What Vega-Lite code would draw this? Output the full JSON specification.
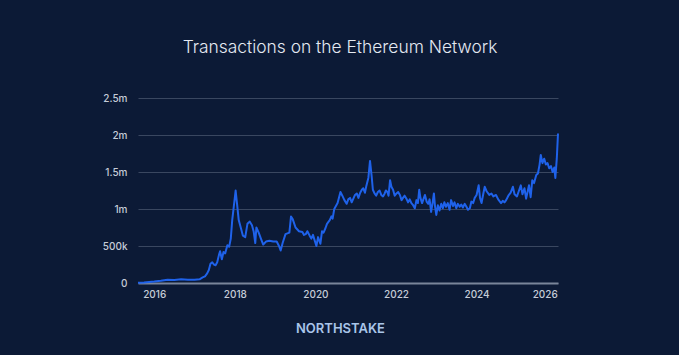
{
  "$schema": "https://vega.github.io/schema/vega-lite/v6.json",
  "autosize": "none",
  "width": 420,
  "height": 185,
  "padding": {"left": 138, "top": 98, "right": 121, "bottom": 72},
  "background": "#0c1a36",
  "config": {"view": {"stroke": null}, "font": "Inter"},
  "title": {"text": "Transactions on the Ethereum Network", "anchor": "middle", "frame": "group", "dx": -8, "offset": 37, "fontSize": 17.4, "fontWeight": 300, "color": "#e4e9f2", "font": "Inter"},
  "data": {"values": [
    {"date": "2015-08-07", "tx": 5000},
    {"date": "2015-10-01", "tx": 8000},
    {"date": "2016-01-01", "tx": 20000},
    {"date": "2016-03-01", "tx": 30000},
    {"date": "2016-05-01", "tx": 45000},
    {"date": "2016-07-01", "tx": 42000},
    {"date": "2016-09-01", "tx": 50000},
    {"date": "2016-11-01", "tx": 45000},
    {"date": "2017-01-01", "tx": 45000},
    {"date": "2017-02-15", "tx": 50000},
    {"date": "2017-03-15", "tx": 75000},
    {"date": "2017-04-05", "tx": 90000},
    {"date": "2017-04-25", "tx": 130000},
    {"date": "2017-05-10", "tx": 175000},
    {"date": "2017-05-25", "tx": 260000},
    {"date": "2017-06-10", "tx": 280000},
    {"date": "2017-06-25", "tx": 250000},
    {"date": "2017-07-10", "tx": 240000},
    {"date": "2017-07-25", "tx": 280000},
    {"date": "2017-08-10", "tx": 380000},
    {"date": "2017-08-20", "tx": 430000},
    {"date": "2017-09-05", "tx": 320000},
    {"date": "2017-09-20", "tx": 420000},
    {"date": "2017-10-05", "tx": 400000},
    {"date": "2017-10-25", "tx": 510000},
    {"date": "2017-11-10", "tx": 490000},
    {"date": "2017-11-25", "tx": 600000},
    {"date": "2017-12-08", "tx": 850000},
    {"date": "2017-12-22", "tx": 1030000},
    {"date": "2018-01-08", "tx": 1250000},
    {"date": "2018-01-20", "tx": 1080000},
    {"date": "2018-02-05", "tx": 850000},
    {"date": "2018-02-25", "tx": 740000},
    {"date": "2018-03-15", "tx": 640000},
    {"date": "2018-04-05", "tx": 620000},
    {"date": "2018-04-25", "tx": 800000},
    {"date": "2018-05-15", "tx": 830000},
    {"date": "2018-06-05", "tx": 780000},
    {"date": "2018-06-20", "tx": 700000},
    {"date": "2018-07-05", "tx": 540000},
    {"date": "2018-07-15", "tx": 750000},
    {"date": "2018-08-05", "tx": 680000},
    {"date": "2018-08-25", "tx": 600000},
    {"date": "2018-09-15", "tx": 520000},
    {"date": "2018-10-10", "tx": 560000},
    {"date": "2018-11-10", "tx": 570000},
    {"date": "2018-12-15", "tx": 560000},
    {"date": "2019-01-15", "tx": 560000},
    {"date": "2019-02-05", "tx": 500000},
    {"date": "2019-02-20", "tx": 440000},
    {"date": "2019-03-10", "tx": 540000},
    {"date": "2019-04-05", "tx": 660000},
    {"date": "2019-05-10", "tx": 680000},
    {"date": "2019-05-25", "tx": 900000},
    {"date": "2019-06-10", "tx": 860000},
    {"date": "2019-07-05", "tx": 750000},
    {"date": "2019-08-05", "tx": 700000},
    {"date": "2019-09-05", "tx": 690000},
    {"date": "2019-09-20", "tx": 650000},
    {"date": "2019-10-05", "tx": 660000},
    {"date": "2019-10-20", "tx": 700000},
    {"date": "2019-11-10", "tx": 640000},
    {"date": "2019-11-25", "tx": 600000},
    {"date": "2019-12-10", "tx": 650000},
    {"date": "2020-01-10", "tx": 500000},
    {"date": "2020-01-25", "tx": 620000},
    {"date": "2020-02-15", "tx": 530000},
    {"date": "2020-03-01", "tx": 700000},
    {"date": "2020-03-15", "tx": 680000},
    {"date": "2020-04-01", "tx": 740000},
    {"date": "2020-04-15", "tx": 800000},
    {"date": "2020-05-10", "tx": 850000},
    {"date": "2020-05-25", "tx": 900000},
    {"date": "2020-06-05", "tx": 870000},
    {"date": "2020-06-20", "tx": 1000000},
    {"date": "2020-07-20", "tx": 1080000},
    {"date": "2020-08-01", "tx": 1150000},
    {"date": "2020-08-15", "tx": 1230000},
    {"date": "2020-09-01", "tx": 1180000},
    {"date": "2020-09-20", "tx": 1120000},
    {"date": "2020-10-10", "tx": 1070000},
    {"date": "2020-10-25", "tx": 1130000},
    {"date": "2020-11-10", "tx": 1150000},
    {"date": "2020-11-25", "tx": 1090000},
    {"date": "2020-12-10", "tx": 1140000},
    {"date": "2020-12-25", "tx": 1190000},
    {"date": "2021-01-10", "tx": 1210000},
    {"date": "2021-01-25", "tx": 1150000},
    {"date": "2021-02-10", "tx": 1220000},
    {"date": "2021-02-25", "tx": 1260000},
    {"date": "2021-03-10", "tx": 1280000},
    {"date": "2021-03-25", "tx": 1220000},
    {"date": "2021-04-05", "tx": 1300000},
    {"date": "2021-04-25", "tx": 1420000},
    {"date": "2021-05-10", "tx": 1650000},
    {"date": "2021-05-25", "tx": 1440000},
    {"date": "2021-06-05", "tx": 1260000},
    {"date": "2021-06-20", "tx": 1210000},
    {"date": "2021-07-05", "tx": 1180000},
    {"date": "2021-07-20", "tx": 1230000},
    {"date": "2021-08-05", "tx": 1250000},
    {"date": "2021-08-20", "tx": 1190000},
    {"date": "2021-09-05", "tx": 1170000},
    {"date": "2021-09-20", "tx": 1210000},
    {"date": "2021-10-01", "tx": 1250000},
    {"date": "2021-10-15", "tx": 1230000},
    {"date": "2021-10-25", "tx": 1180000},
    {"date": "2021-11-08", "tx": 1390000},
    {"date": "2021-11-20", "tx": 1300000},
    {"date": "2021-12-05", "tx": 1260000},
    {"date": "2021-12-20", "tx": 1180000},
    {"date": "2022-01-05", "tx": 1210000},
    {"date": "2022-01-20", "tx": 1230000},
    {"date": "2022-02-05", "tx": 1190000},
    {"date": "2022-02-20", "tx": 1120000},
    {"date": "2022-03-05", "tx": 1150000},
    {"date": "2022-03-20", "tx": 1180000},
    {"date": "2022-04-05", "tx": 1140000},
    {"date": "2022-04-20", "tx": 1090000},
    {"date": "2022-05-05", "tx": 1130000},
    {"date": "2022-05-20", "tx": 1080000},
    {"date": "2022-06-01", "tx": 1060000},
    {"date": "2022-06-20", "tx": 1010000},
    {"date": "2022-07-05", "tx": 1120000},
    {"date": "2022-07-18", "tx": 1080000},
    {"date": "2022-07-30", "tx": 1260000},
    {"date": "2022-08-10", "tx": 1150000},
    {"date": "2022-08-25", "tx": 1080000},
    {"date": "2022-09-08", "tx": 1140000},
    {"date": "2022-09-20", "tx": 1190000},
    {"date": "2022-10-05", "tx": 1100000},
    {"date": "2022-10-20", "tx": 1070000},
    {"date": "2022-11-01", "tx": 1130000},
    {"date": "2022-11-15", "tx": 960000},
    {"date": "2022-11-28", "tx": 1080000},
    {"date": "2022-12-10", "tx": 1210000},
    {"date": "2022-12-20", "tx": 1040000},
    {"date": "2023-01-01", "tx": 920000},
    {"date": "2023-01-15", "tx": 1050000},
    {"date": "2023-01-30", "tx": 980000},
    {"date": "2023-02-15", "tx": 1070000},
    {"date": "2023-03-01", "tx": 1010000},
    {"date": "2023-03-15", "tx": 1090000},
    {"date": "2023-03-30", "tx": 1030000},
    {"date": "2023-04-15", "tx": 1080000},
    {"date": "2023-05-01", "tx": 990000},
    {"date": "2023-05-15", "tx": 1120000},
    {"date": "2023-06-01", "tx": 1040000},
    {"date": "2023-06-15", "tx": 1090000},
    {"date": "2023-07-01", "tx": 1010000},
    {"date": "2023-07-15", "tx": 1070000},
    {"date": "2023-08-01", "tx": 1030000},
    {"date": "2023-08-15", "tx": 1060000},
    {"date": "2023-08-30", "tx": 1020000},
    {"date": "2023-09-15", "tx": 1070000},
    {"date": "2023-10-01", "tx": 1030000},
    {"date": "2023-10-15", "tx": 990000},
    {"date": "2023-11-01", "tx": 1010000},
    {"date": "2023-11-15", "tx": 1100000},
    {"date": "2023-12-01", "tx": 1080000},
    {"date": "2023-12-15", "tx": 1150000},
    {"date": "2024-01-01", "tx": 1190000},
    {"date": "2024-01-20", "tx": 1320000},
    {"date": "2024-02-01", "tx": 1150000},
    {"date": "2024-02-15", "tx": 1080000},
    {"date": "2024-03-01", "tx": 1200000},
    {"date": "2024-03-15", "tx": 1300000},
    {"date": "2024-04-01", "tx": 1240000},
    {"date": "2024-04-25", "tx": 1190000},
    {"date": "2024-05-15", "tx": 1210000},
    {"date": "2024-06-01", "tx": 1170000},
    {"date": "2024-06-25", "tx": 1190000},
    {"date": "2024-07-15", "tx": 1130000},
    {"date": "2024-08-10", "tx": 1080000},
    {"date": "2024-08-25", "tx": 1110000},
    {"date": "2024-09-10", "tx": 1090000},
    {"date": "2024-09-25", "tx": 1120000},
    {"date": "2024-10-15", "tx": 1180000},
    {"date": "2024-11-05", "tx": 1220000},
    {"date": "2024-11-25", "tx": 1300000},
    {"date": "2024-12-10", "tx": 1200000},
    {"date": "2025-01-01", "tx": 1170000},
    {"date": "2025-01-15", "tx": 1230000},
    {"date": "2025-02-05", "tx": 1320000},
    {"date": "2025-02-20", "tx": 1200000},
    {"date": "2025-03-10", "tx": 1280000},
    {"date": "2025-03-25", "tx": 1140000},
    {"date": "2025-04-10", "tx": 1250000},
    {"date": "2025-04-20", "tx": 1320000},
    {"date": "2025-05-05", "tx": 1160000},
    {"date": "2025-05-20", "tx": 1390000},
    {"date": "2025-06-05", "tx": 1350000},
    {"date": "2025-06-25", "tx": 1460000},
    {"date": "2025-07-10", "tx": 1480000},
    {"date": "2025-07-25", "tx": 1600000},
    {"date": "2025-08-05", "tx": 1730000},
    {"date": "2025-08-20", "tx": 1620000},
    {"date": "2025-09-05", "tx": 1680000},
    {"date": "2025-09-20", "tx": 1600000},
    {"date": "2025-10-05", "tx": 1620000},
    {"date": "2025-10-20", "tx": 1550000},
    {"date": "2025-11-05", "tx": 1580000},
    {"date": "2025-11-20", "tx": 1500000},
    {"date": "2025-12-05", "tx": 1560000},
    {"date": "2025-12-15", "tx": 1420000},
    {"date": "2025-12-28", "tx": 1680000},
    {"date": "2026-01-08", "tx": 2020000}
  ]},
  "mark": {"type": "line", "color": "#1f62ea", "strokeWidth": 2, "strokeJoin": "round"},
  "encoding": {
    "x": {
      "field": "date", "type": "temporal",
      "scale": {"domain": ["2015-08-07", "2026-01-08"], "nice": false},
      "axis": {
        "format": "%Y", "tickCount": {"interval": "year", "step": 2},
        "grid": false, "ticks": false, "domain": true, "domainColor": "#7a859a", "domainWidth": 2,
        "labelColor": "#c5ccd8", "labelFontSize": 10, "labelFont": "Inter", "labelFontWeight": 500, "labelPadding": 6,
        "title": "NORTHSTAKE", "titleFont": "Inter", "titleFontSize": 13, "titleFontWeight": 600, "titleColor": "#a9c5ea",
        "titlePadding": 23, "titleX": 202
      }
    },
    "y": {
      "field": "tx", "type": "quantitative",
      "scale": {"domain": [0, 2500000], "nice": false},
      "axis": {
        "values": [0, 500000, 1000000, 1500000, 2000000, 2500000],
        "labelExpr": "datum.value == 0 ? '0' : (datum.value < 1000000 ? (datum.value/1000) + 'k' : (datum.value/1000000) + 'm')",
        "grid": true, "gridColor": "#3a4760", "gridWidth": 1, "ticks": false, "domain": false,
        "labelColor": "#c5ccd8", "labelFontSize": 10, "labelFont": "Inter", "labelFontWeight": 500, "labelPadding": 11,
        "title": null
      }
    }
  }
}
